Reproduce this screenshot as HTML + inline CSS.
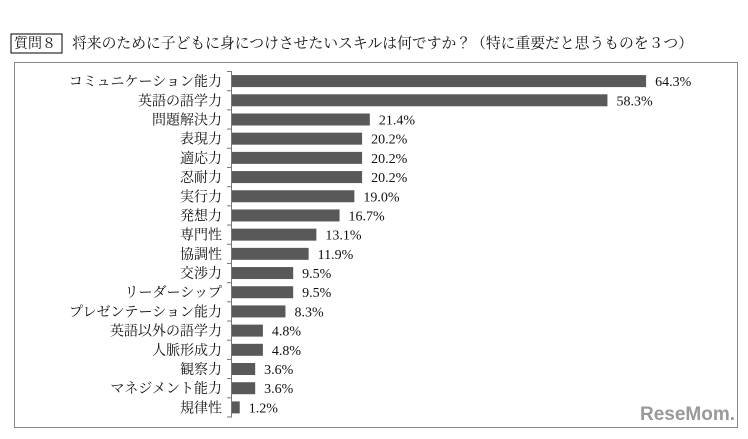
<!DOCTYPE html>
<html><head><meta charset="utf-8"><style>
body{margin:0;background:#fff;width:748px;height:434px;overflow:hidden;font-family:"Liberation Serif","Noto Serif CJK JP",serif;}
svg text{font-family:"Liberation Serif","Noto Serif CJK JP",serif;fill:#111;}
</style></head><body>
<svg id="c" width="748" height="434">
<rect x="11" y="34" width="51" height="19" fill="none" stroke="#000" stroke-width="1"/>
<text x="14" y="48" font-size="14">質問８</text>
<text x="72" y="48" font-size="14.8">将来のために子どもに身につけさせたいスキルは何ですか？（特に重要だと思うものを３つ）</text>
<rect x="14.5" y="62.5" width="723" height="365" fill="none" stroke="#888" stroke-width="1"/>
<line x1="231.5" y1="71" x2="231.5" y2="417" stroke="#777"/>
<text x="735" y="420" font-size="19" font-weight="bold" text-anchor="end" style="fill:#999;font-family:'Liberation Sans',sans-serif">ReseMom.</text>
</svg>
<script>
const categories=["コミュニケーション能力","英語の語学力","問題解決力","表現力","適応力","忍耐力","実行力","発想力","専門性","協調性","交渉力","リーダーシップ","プレゼンテーション能力","英語以外の語学力","人脈形成力","観察力","マネジメント能力","規律性"];
const values=[64.3,58.3,21.4,20.2,20.2,20.2,19.0,16.7,13.1,11.9,9.5,9.5,8.3,4.8,4.8,3.6,3.6,1.2];
const svg=document.getElementById('c');const NS='http://www.w3.org/2000/svg';
const x0=232,scale=6.44,topY=71.5,pitch=(417-71.5)/categories.length;
const xs=v=>v*scale;const yc=i=>topY+pitch*(i+0.5);
function mk(t,a){const e=document.createElementNS(NS,t);for(const k in a)e.setAttribute(k,a[k]);svg.appendChild(e);return e;}
for(let i=0;i<=categories.length;i++){const t=mk('line',{x1:227,x2:232,y1:topY+pitch*i,y2:topY+pitch*i,stroke:'#777'});

}
categories.forEach((c,i)=>{
const l=mk('text',{x:222,y:yc(i)+5,'font-size':14,'text-anchor':'end'});l.textContent=c;


const b=mk('rect',{x:x0,y:yc(i)-6,width:xs(values[i]),height:12,fill:'#595959'});


const v=mk('text',{x:x0+xs(values[i])+9,y:yc(i)+5,'font-size':14});v.textContent=values[i].toFixed(1)+'%';


});
</script>
</body></html>
